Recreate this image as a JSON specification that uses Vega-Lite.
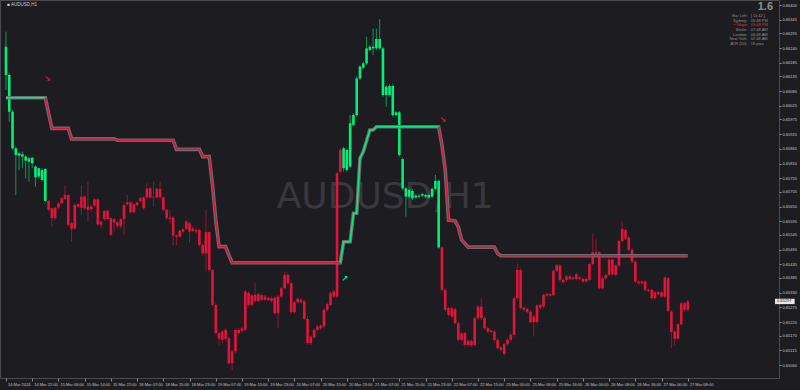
{
"$schema":"https://vega.github.io/schema/vega-lite/v6.json",
"width":779,"height":378,
"autosize":{"type":"none"},
"padding":{"left":0,"top":0,"right":21,"bottom":12},
"background":"#1d1d21",
"config":{"view":{"stroke":"#4a4a50","strokeWidth":1},"font":"Liberation Sans","axis":{"labelOverlap":false,"tickCount":100}},
"datasets":{
"candles":[
{"i":0,"o":0.66245,"h":0.66301,"l":0.66084,"c":0.66140,"t":"up"},
{"i":1,"o":0.66140,"h":0.66146,"l":0.65966,"c":0.66003,"t":"up"},
{"i":2,"o":0.66003,"h":0.66010,"l":0.65861,"c":0.65867,"t":"up"},
{"i":3,"o":0.65867,"h":0.65873,"l":0.65693,"c":0.65842,"t":"up"},
{"i":4,"o":0.65848,"h":0.65855,"l":0.65786,"c":0.65840,"t":"up"},
{"i":5,"o":0.65845,"h":0.65855,"l":0.65793,"c":0.65836,"t":"up"},
{"i":6,"o":0.65836,"h":0.65842,"l":0.65755,"c":0.65821,"t":"up"},
{"i":7,"o":0.65830,"h":0.65836,"l":0.65743,"c":0.65817,"t":"up"},
{"i":8,"o":0.65832,"h":0.65836,"l":0.65793,"c":0.65811,"t":"up"},
{"i":9,"o":0.65799,"h":0.65803,"l":0.65724,"c":0.65759,"t":"up"},
{"i":10,"o":0.65762,"h":0.65795,"l":0.65755,"c":0.65793,"t":"up"},
{"i":11,"o":0.65749,"h":0.65793,"l":0.65743,"c":0.65786,"t":"up"},
{"i":12,"o":0.65790,"h":0.65793,"l":0.65666,"c":0.65671,"t":"up"},
{"i":13,"o":0.65671,"h":0.65675,"l":0.65631,"c":0.65638,"t":"dn"},
{"i":14,"o":0.65644,"h":0.65646,"l":0.65576,"c":0.65607,"t":"dn"},
{"i":15,"o":0.65607,"h":0.65650,"l":0.65600,"c":0.65646,"t":"dn"},
{"i":16,"o":0.65646,"h":0.65669,"l":0.65641,"c":0.65662,"t":"dn"},
{"i":17,"o":0.65662,"h":0.65684,"l":0.65659,"c":0.65681,"t":"dn"},
{"i":18,"o":0.65679,"h":0.65731,"l":0.65675,"c":0.65693,"t":"dn"},
{"i":19,"o":0.65693,"h":0.65696,"l":0.65576,"c":0.65582,"t":"dn"},
{"i":20,"o":0.65588,"h":0.65594,"l":0.65520,"c":0.65567,"t":"dn"},
{"i":21,"o":0.65569,"h":0.65662,"l":0.65563,"c":0.65656,"t":"dn"},
{"i":22,"o":0.65659,"h":0.65662,"l":0.65644,"c":0.65650,"t":"dn"},
{"i":23,"o":0.65646,"h":0.65731,"l":0.65619,"c":0.65687,"t":"dn"},
{"i":24,"o":0.65687,"h":0.65693,"l":0.65638,"c":0.65644,"t":"dn"},
{"i":25,"o":0.65650,"h":0.65743,"l":0.65594,"c":0.65638,"t":"dn"},
{"i":26,"o":0.65641,"h":0.65656,"l":0.65631,"c":0.65650,"t":"dn"},
{"i":27,"o":0.65654,"h":0.65681,"l":0.65650,"c":0.65677,"t":"dn"},
{"i":28,"o":0.65677,"h":0.65681,"l":0.65579,"c":0.65584,"t":"dn"},
{"i":29,"o":0.65594,"h":0.65597,"l":0.65569,"c":0.65582,"t":"dn"},
{"i":30,"o":0.65604,"h":0.65638,"l":0.65597,"c":0.65634,"t":"dn"},
{"i":31,"o":0.65634,"h":0.65638,"l":0.65600,"c":0.65604,"t":"dn"},
{"i":32,"o":0.65607,"h":0.65609,"l":0.65538,"c":0.65545,"t":"dn"},
{"i":33,"o":0.65592,"h":0.65607,"l":0.65557,"c":0.65604,"t":"dn"},
{"i":34,"o":0.65592,"h":0.65594,"l":0.65569,"c":0.65579,"t":"dn"},
{"i":35,"o":0.65576,"h":0.65607,"l":0.65569,"c":0.65604,"t":"dn"},
{"i":36,"o":0.65604,"h":0.65662,"l":0.65545,"c":0.65656,"t":"dn"},
{"i":37,"o":0.65659,"h":0.65693,"l":0.65654,"c":0.65666,"t":"dn"},
{"i":38,"o":0.65666,"h":0.65669,"l":0.65625,"c":0.65629,"t":"dn"},
{"i":39,"o":0.65629,"h":0.65662,"l":0.65625,"c":0.65659,"t":"dn"},
{"i":40,"o":0.65656,"h":0.65669,"l":0.65650,"c":0.65665,"t":"dn"},
{"i":41,"o":0.65671,"h":0.65687,"l":0.65666,"c":0.65681,"t":"dn"},
{"i":42,"o":0.65684,"h":0.65687,"l":0.65638,"c":0.65644,"t":"dn"},
{"i":43,"o":0.65684,"h":0.65737,"l":0.65679,"c":0.65718,"t":"dn"},
{"i":44,"o":0.65718,"h":0.65724,"l":0.65679,"c":0.65684,"t":"dn"},
{"i":45,"o":0.65684,"h":0.65743,"l":0.65650,"c":0.65687,"t":"dn"},
{"i":46,"o":0.65684,"h":0.65721,"l":0.65679,"c":0.65716,"t":"dn"},
{"i":47,"o":0.65716,"h":0.65743,"l":0.65679,"c":0.65684,"t":"dn"},
{"i":48,"o":0.65684,"h":0.65687,"l":0.65631,"c":0.65638,"t":"dn"},
{"i":49,"o":0.65638,"h":0.65641,"l":0.65600,"c":0.65607,"t":"dn"},
{"i":50,"o":0.65604,"h":0.65638,"l":0.65588,"c":0.65609,"t":"dn"},
{"i":51,"o":0.65609,"h":0.65613,"l":0.65507,"c":0.65542,"t":"dn"},
{"i":52,"o":0.65542,"h":0.65547,"l":0.65507,"c":0.65538,"t":"dn"},
{"i":53,"o":0.65538,"h":0.65563,"l":0.65535,"c":0.65560,"t":"dn"},
{"i":54,"o":0.65557,"h":0.65569,"l":0.65551,"c":0.65566,"t":"dn"},
{"i":55,"o":0.65567,"h":0.65600,"l":0.65563,"c":0.65594,"t":"dn"},
{"i":56,"o":0.65588,"h":0.65594,"l":0.65514,"c":0.65557,"t":"dn"},
{"i":57,"o":0.65560,"h":0.65576,"l":0.65555,"c":0.65569,"t":"dn"},
{"i":58,"o":0.65563,"h":0.65569,"l":0.65551,"c":0.65557,"t":"dn"},
{"i":59,"o":0.65563,"h":0.65567,"l":0.65501,"c":0.65507,"t":"dn"},
{"i":60,"o":0.65507,"h":0.65514,"l":0.65470,"c":0.65476,"t":"dn"},
{"i":61,"o":0.65476,"h":0.65638,"l":0.65408,"c":0.65555,"t":"dn"},
{"i":62,"o":0.65555,"h":0.65557,"l":0.65408,"c":0.65414,"t":"dn"},
{"i":63,"o":0.65414,"h":0.65418,"l":0.65278,"c":0.65284,"t":"dn"},
{"i":64,"o":0.65284,"h":0.65290,"l":0.65173,"c":0.65179,"t":"dn"},
{"i":65,"o":0.65179,"h":0.65185,"l":0.65135,"c":0.65158,"t":"dn"},
{"i":66,"o":0.65154,"h":0.65191,"l":0.65142,"c":0.65185,"t":"dn"},
{"i":67,"o":0.65191,"h":0.65197,"l":0.65150,"c":0.65158,"t":"dn"},
{"i":68,"o":0.65160,"h":0.65166,"l":0.65061,"c":0.65067,"t":"dn"},
{"i":69,"o":0.65067,"h":0.65117,"l":0.65042,"c":0.65111,"t":"dn"},
{"i":70,"o":0.65111,"h":0.65197,"l":0.65104,"c":0.65191,"t":"dn"},
{"i":71,"o":0.65191,"h":0.65197,"l":0.65173,"c":0.65179,"t":"dn"},
{"i":72,"o":0.65188,"h":0.65204,"l":0.65179,"c":0.65197,"t":"dn"},
{"i":73,"o":0.65191,"h":0.65340,"l":0.65185,"c":0.65334,"t":"dn"},
{"i":74,"o":0.65328,"h":0.65334,"l":0.65278,"c":0.65284,"t":"dn"},
{"i":75,"o":0.65284,"h":0.65324,"l":0.65278,"c":0.65319,"t":"dn"},
{"i":76,"o":0.65299,"h":0.65365,"l":0.65294,"c":0.65321,"t":"dn"},
{"i":77,"o":0.65324,"h":0.65328,"l":0.65294,"c":0.65299,"t":"dn"},
{"i":78,"o":0.65303,"h":0.65328,"l":0.65297,"c":0.65321,"t":"dn"},
{"i":79,"o":0.65315,"h":0.65321,"l":0.65299,"c":0.65303,"t":"dn"},
{"i":80,"o":0.65303,"h":0.65315,"l":0.65299,"c":0.65311,"t":"dn"},
{"i":81,"o":0.65309,"h":0.65315,"l":0.65294,"c":0.65299,"t":"dn"},
{"i":82,"o":0.65311,"h":0.65315,"l":0.65247,"c":0.65253,"t":"dn"},
{"i":83,"o":0.65253,"h":0.65321,"l":0.65197,"c":0.65315,"t":"dn"},
{"i":84,"o":0.65315,"h":0.65352,"l":0.65309,"c":0.65346,"t":"dn"},
{"i":85,"o":0.65346,"h":0.65408,"l":0.65340,"c":0.65396,"t":"dn"},
{"i":86,"o":0.65396,"h":0.65402,"l":0.65359,"c":0.65365,"t":"dn"},
{"i":87,"o":0.65365,"h":0.65371,"l":0.65253,"c":0.65257,"t":"dn"},
{"i":88,"o":0.65257,"h":0.65299,"l":0.65250,"c":0.65294,"t":"dn"},
{"i":89,"o":0.65294,"h":0.65311,"l":0.65289,"c":0.65307,"t":"dn"},
{"i":90,"o":0.65303,"h":0.65309,"l":0.65289,"c":0.65294,"t":"dn"},
{"i":91,"o":0.65297,"h":0.65303,"l":0.65227,"c":0.65232,"t":"dn"},
{"i":92,"o":0.65232,"h":0.65241,"l":0.65135,"c":0.65142,"t":"dn"},
{"i":93,"o":0.65142,"h":0.65173,"l":0.65135,"c":0.65166,"t":"dn"},
{"i":94,"o":0.65163,"h":0.65197,"l":0.65158,"c":0.65191,"t":"dn"},
{"i":95,"o":0.65191,"h":0.65210,"l":0.65185,"c":0.65204,"t":"dn"},
{"i":96,"o":0.65197,"h":0.65212,"l":0.65191,"c":0.65207,"t":"dn"},
{"i":97,"o":0.65204,"h":0.65272,"l":0.65197,"c":0.65266,"t":"dn"},
{"i":98,"o":0.65266,"h":0.65292,"l":0.65259,"c":0.65287,"t":"dn"},
{"i":99,"o":0.65284,"h":0.65334,"l":0.65278,"c":0.65328,"t":"dn"},
{"i":100,"o":0.65315,"h":0.65339,"l":0.65309,"c":0.65334,"t":"dn"},
{"i":101,"o":0.65315,"h":0.65780,"l":0.65309,"c":0.65774,"t":"dn"},
{"i":102,"o":0.65780,"h":0.65867,"l":0.65774,"c":0.65861,"t":"dn"},
{"i":103,"o":0.65867,"h":0.65873,"l":0.65780,"c":0.65793,"t":"up"},
{"i":104,"o":0.65786,"h":0.65867,"l":0.65780,"c":0.65861,"t":"up"},
{"i":105,"o":0.65799,"h":0.65991,"l":0.65793,"c":0.65960,"t":"up"},
{"i":106,"o":0.65954,"h":0.65997,"l":0.65948,"c":0.65991,"t":"up"},
{"i":107,"o":0.65991,"h":0.66134,"l":0.65985,"c":0.66127,"t":"up"},
{"i":108,"o":0.66127,"h":0.66177,"l":0.66121,"c":0.66171,"t":"up"},
{"i":109,"o":0.66167,"h":0.66189,"l":0.66162,"c":0.66183,"t":"up"},
{"i":110,"o":0.66183,"h":0.66282,"l":0.66177,"c":0.66239,"t":"up"},
{"i":111,"o":0.66233,"h":0.66251,"l":0.66227,"c":0.66245,"t":"up"},
{"i":112,"o":0.66245,"h":0.66313,"l":0.66214,"c":0.66239,"t":"up"},
{"i":113,"o":0.66239,"h":0.66313,"l":0.66233,"c":0.66274,"t":"up"},
{"i":114,"o":0.66274,"h":0.66348,"l":0.66233,"c":0.66239,"t":"up"},
{"i":115,"o":0.66239,"h":0.66245,"l":0.66059,"c":0.66065,"t":"up"},
{"i":116,"o":0.66065,"h":0.66103,"l":0.66022,"c":0.66096,"t":"up"},
{"i":117,"o":0.66099,"h":0.66105,"l":0.66059,"c":0.66065,"t":"up"},
{"i":118,"o":0.66099,"h":0.66105,"l":0.65985,"c":0.65991,"t":"up"},
{"i":119,"o":0.65991,"h":0.66006,"l":0.65985,"c":0.66001,"t":"up"},
{"i":120,"o":0.66001,"h":0.66006,"l":0.65836,"c":0.65842,"t":"up"},
{"i":121,"o":0.65827,"h":0.65832,"l":0.65712,"c":0.65718,"t":"up"},
{"i":122,"o":0.65718,"h":0.65724,"l":0.65613,"c":0.65687,"t":"up"},
{"i":123,"o":0.65687,"h":0.65718,"l":0.65681,"c":0.65712,"t":"up"},
{"i":124,"o":0.65708,"h":0.65716,"l":0.65675,"c":0.65681,"t":"up"},
{"i":125,"o":0.65684,"h":0.65696,"l":0.65679,"c":0.65691,"t":"up"},
{"i":126,"o":0.65691,"h":0.65696,"l":0.65681,"c":0.65687,"t":"up"},
{"i":127,"o":0.65691,"h":0.65702,"l":0.65686,"c":0.65697,"t":"up"},
{"i":128,"o":0.65693,"h":0.65698,"l":0.65681,"c":0.65687,"t":"up"},
{"i":129,"o":0.65684,"h":0.65698,"l":0.65679,"c":0.65693,"t":"up"},
{"i":130,"o":0.65687,"h":0.65721,"l":0.65681,"c":0.65716,"t":"up"},
{"i":131,"o":0.65716,"h":0.65768,"l":0.65711,"c":0.65746,"t":"up"},
{"i":132,"o":0.65746,"h":0.65750,"l":0.65493,"c":0.65498,"t":"up"},
{"i":133,"o":0.65498,"h":0.65502,"l":0.65334,"c":0.65340,"t":"dn"},
{"i":134,"o":0.65340,"h":0.65346,"l":0.65259,"c":0.65266,"t":"dn"},
{"i":135,"o":0.65272,"h":0.65277,"l":0.65241,"c":0.65247,"t":"dn"},
{"i":136,"o":0.65241,"h":0.65277,"l":0.65235,"c":0.65272,"t":"dn"},
{"i":137,"o":0.65269,"h":0.65274,"l":0.65210,"c":0.65216,"t":"dn"},
{"i":138,"o":0.65216,"h":0.65222,"l":0.65148,"c":0.65154,"t":"dn"},
{"i":139,"o":0.65154,"h":0.65185,"l":0.65148,"c":0.65179,"t":"dn"},
{"i":140,"o":0.65179,"h":0.65185,"l":0.65129,"c":0.65135,"t":"dn"},
{"i":141,"o":0.65135,"h":0.65155,"l":0.65129,"c":0.65150,"t":"dn"},
{"i":142,"o":0.65150,"h":0.65155,"l":0.65128,"c":0.65133,"t":"dn"},
{"i":143,"o":0.65135,"h":0.65241,"l":0.65129,"c":0.65235,"t":"dn"},
{"i":144,"o":0.65235,"h":0.65284,"l":0.65228,"c":0.65278,"t":"dn"},
{"i":145,"o":0.65278,"h":0.65309,"l":0.65228,"c":0.65235,"t":"dn"},
{"i":146,"o":0.65235,"h":0.65241,"l":0.65191,"c":0.65197,"t":"dn"},
{"i":147,"o":0.65197,"h":0.65202,"l":0.65179,"c":0.65185,"t":"dn"},
{"i":148,"o":0.65188,"h":0.65192,"l":0.65178,"c":0.65183,"t":"dn"},
{"i":149,"o":0.65185,"h":0.65190,"l":0.65148,"c":0.65154,"t":"dn"},
{"i":150,"o":0.65154,"h":0.65160,"l":0.65117,"c":0.65123,"t":"dn"},
{"i":151,"o":0.65126,"h":0.65130,"l":0.65111,"c":0.65117,"t":"dn"},
{"i":152,"o":0.65101,"h":0.65143,"l":0.65096,"c":0.65138,"t":"dn"},
{"i":153,"o":0.65138,"h":0.65160,"l":0.65133,"c":0.65154,"t":"dn"},
{"i":154,"o":0.65154,"h":0.65179,"l":0.65148,"c":0.65173,"t":"dn"},
{"i":155,"o":0.65173,"h":0.65315,"l":0.65166,"c":0.65309,"t":"dn"},
{"i":156,"o":0.65309,"h":0.65439,"l":0.65303,"c":0.65414,"t":"dn"},
{"i":157,"o":0.65414,"h":0.65421,"l":0.65266,"c":0.65272,"t":"dn"},
{"i":158,"o":0.65274,"h":0.65279,"l":0.65259,"c":0.65266,"t":"dn"},
{"i":159,"o":0.65269,"h":0.65274,"l":0.65252,"c":0.65257,"t":"dn"},
{"i":160,"o":0.65259,"h":0.65264,"l":0.65215,"c":0.65220,"t":"dn"},
{"i":161,"o":0.65220,"h":0.65247,"l":0.65166,"c":0.65241,"t":"dn"},
{"i":162,"o":0.65220,"h":0.65287,"l":0.65215,"c":0.65282,"t":"dn"},
{"i":163,"o":0.65274,"h":0.65289,"l":0.65269,"c":0.65284,"t":"dn"},
{"i":164,"o":0.65278,"h":0.65326,"l":0.65272,"c":0.65321,"t":"dn"},
{"i":165,"o":0.65319,"h":0.65329,"l":0.65314,"c":0.65324,"t":"dn"},
{"i":166,"o":0.65324,"h":0.65329,"l":0.65314,"c":0.65319,"t":"dn"},
{"i":167,"o":0.65321,"h":0.65416,"l":0.65316,"c":0.65411,"t":"dn"},
{"i":168,"o":0.65411,"h":0.65436,"l":0.65406,"c":0.65431,"t":"dn"},
{"i":169,"o":0.65431,"h":0.65436,"l":0.65371,"c":0.65377,"t":"dn"},
{"i":170,"o":0.65377,"h":0.65383,"l":0.65364,"c":0.65369,"t":"dn"},
{"i":171,"o":0.65377,"h":0.65396,"l":0.65371,"c":0.65390,"t":"dn"},
{"i":172,"o":0.65390,"h":0.65396,"l":0.65376,"c":0.65381,"t":"dn"},
{"i":173,"o":0.65381,"h":0.65391,"l":0.65376,"c":0.65386,"t":"dn"},
{"i":174,"o":0.65381,"h":0.65403,"l":0.65376,"c":0.65398,"t":"dn"},
{"i":175,"o":0.65386,"h":0.65391,"l":0.65376,"c":0.65381,"t":"dn"},
{"i":176,"o":0.65381,"h":0.65386,"l":0.65366,"c":0.65371,"t":"dn"},
{"i":177,"o":0.65371,"h":0.65386,"l":0.65366,"c":0.65381,"t":"dn"},
{"i":178,"o":0.65377,"h":0.65440,"l":0.65371,"c":0.65436,"t":"dn"},
{"i":179,"o":0.65436,"h":0.65551,"l":0.65431,"c":0.65480,"t":"dn"},
{"i":180,"o":0.65480,"h":0.65530,"l":0.65465,"c":0.65470,"t":"dn"},
{"i":181,"o":0.65480,"h":0.65485,"l":0.65341,"c":0.65346,"t":"dn"},
{"i":182,"o":0.65346,"h":0.65388,"l":0.65341,"c":0.65383,"t":"dn"},
{"i":183,"o":0.65383,"h":0.65401,"l":0.65378,"c":0.65396,"t":"dn"},
{"i":184,"o":0.65396,"h":0.65457,"l":0.65391,"c":0.65452,"t":"dn"},
{"i":185,"o":0.65452,"h":0.65457,"l":0.65393,"c":0.65398,"t":"dn"},
{"i":186,"o":0.65396,"h":0.65436,"l":0.65391,"c":0.65431,"t":"dn"},
{"i":187,"o":0.65431,"h":0.65527,"l":0.65426,"c":0.65522,"t":"dn"},
{"i":188,"o":0.65522,"h":0.65594,"l":0.65517,"c":0.65567,"t":"dn"},
{"i":189,"o":0.65563,"h":0.65568,"l":0.65525,"c":0.65530,"t":"dn"},
{"i":190,"o":0.65535,"h":0.65540,"l":0.65483,"c":0.65489,"t":"dn"},
{"i":191,"o":0.65489,"h":0.65495,"l":0.65439,"c":0.65445,"t":"dn"},
{"i":192,"o":0.65445,"h":0.65450,"l":0.65365,"c":0.65371,"t":"dn"},
{"i":193,"o":0.65371,"h":0.65376,"l":0.65359,"c":0.65365,"t":"dn"},
{"i":194,"o":0.65365,"h":0.65376,"l":0.65359,"c":0.65371,"t":"dn"},
{"i":195,"o":0.65371,"h":0.65376,"l":0.65334,"c":0.65340,"t":"dn"},
{"i":196,"o":0.65340,"h":0.65345,"l":0.65331,"c":0.65336,"t":"dn"},
{"i":197,"o":0.65340,"h":0.65345,"l":0.65303,"c":0.65309,"t":"dn"},
{"i":198,"o":0.65309,"h":0.65336,"l":0.65303,"c":0.65331,"t":"dn"},
{"i":199,"o":0.65331,"h":0.65336,"l":0.65319,"c":0.65324,"t":"dn"},
{"i":200,"o":0.65331,"h":0.65336,"l":0.65309,"c":0.65315,"t":"dn"},
{"i":201,"o":0.65315,"h":0.65391,"l":0.65309,"c":0.65386,"t":"dn"},
{"i":202,"o":0.65383,"h":0.65388,"l":0.65257,"c":0.65262,"t":"dn"},
{"i":203,"o":0.65259,"h":0.65264,"l":0.65123,"c":0.65183,"t":"dn"},
{"i":204,"o":0.65185,"h":0.65190,"l":0.65135,"c":0.65158,"t":"dn"},
{"i":205,"o":0.65158,"h":0.65217,"l":0.65153,"c":0.65212,"t":"dn"},
{"i":206,"o":0.65212,"h":0.65295,"l":0.65207,"c":0.65290,"t":"dn"},
{"i":207,"o":0.65290,"h":0.65295,"l":0.65259,"c":0.65266,"t":"dn"},
{"i":208,"o":0.65266,"h":0.65302,"l":0.65259,"c":0.65297,"t":"dn"}
],
"trend":[
{"i":0,"v":0.66055,"g":"A","d":"up"},{"i":12,"v":0.66055,"g":"A","d":"up"},
{"i":12,"v":0.66055,"g":"B","d":"dn"},{"i":14,"v":0.65941,"g":"B","d":"dn"},{"i":19,"v":0.65941,"g":"B","d":"dn"},{"i":20,"v":0.65902,"g":"B","d":"dn"},{"i":33,"v":0.65902,"g":"B","d":"dn"},{"i":34,"v":0.65897,"g":"B","d":"dn"},{"i":51,"v":0.65897,"g":"B","d":"dn"},{"i":52,"v":0.65863,"g":"B","d":"dn"},{"i":59,"v":0.65863,"g":"B","d":"dn"},{"i":60,"v":0.65836,"g":"B","d":"dn"},{"i":62,"v":0.65836,"g":"B","d":"dn"},{"i":63,"v":0.65730,"g":"B","d":"dn"},{"i":64,"v":0.65600,"g":"B","d":"dn"},{"i":65,"v":0.65501,"g":"B","d":"dn"},{"i":67,"v":0.65501,"g":"B","d":"dn"},{"i":68,"v":0.65470,"g":"B","d":"dn"},{"i":69,"v":0.65441,"g":"B","d":"dn"},{"i":102,"v":0.65441,"g":"B","d":"dn"},
{"i":102,"v":0.65441,"g":"C","d":"up"},{"i":103,"v":0.65519,"g":"C","d":"up"},{"i":105,"v":0.65519,"g":"C","d":"up"},{"i":106,"v":0.65625,"g":"C","d":"up"},{"i":107,"v":0.65625,"g":"C","d":"up"},{"i":108,"v":0.65830,"g":"C","d":"up"},{"i":109,"v":0.65854,"g":"C","d":"up"},{"i":111,"v":0.65935,"g":"C","d":"up"},{"i":112,"v":0.65935,"g":"C","d":"up"},{"i":113,"v":0.65947,"g":"C","d":"up"},{"i":132,"v":0.65947,"g":"C","d":"up"},
{"i":132,"v":0.65947,"g":"D","d":"dn"},{"i":133,"v":0.65879,"g":"D","d":"dn"},{"i":134,"v":0.65786,"g":"D","d":"dn"},{"i":135,"v":0.65600,"g":"D","d":"dn"},{"i":137,"v":0.65597,"g":"D","d":"dn"},{"i":138,"v":0.65574,"g":"D","d":"dn"},{"i":139,"v":0.65526,"g":"D","d":"dn"},{"i":141,"v":0.65499,"g":"D","d":"dn"},{"i":149,"v":0.65499,"g":"D","d":"dn"},{"i":150,"v":0.65475,"g":"D","d":"dn"},{"i":151,"v":0.65467,"g":"D","d":"dn"},{"i":208,"v":0.65467,"g":"D","d":"dn"}
],
"arrows":[
{"i":12.6,"p":0.66125,"s":"↘","d":"dn"},
{"i":133.3,"p":0.65972,"s":"↘","d":"dn"},
{"i":103.4,"p":0.65381,"s":"↗","d":"up"}
]
},
"layer":[
{"data":{"name":"candles"},
 "mark":{"type":"rule","strokeWidth":0.9,"opacity":0},
 "encoding":{
  "x":{"field":"i","type":"quantitative","title":null,"scale":{"domain":[-0.3,234.3],"nice":false,"zero":false},
   "axis":{"orient":"bottom","tickCount":100,"values":[0,8,16,24,32,40,48,56,64,72,80,88,96,104,112,120,128,136,144,152,160,168,176,184,192,200,208],
    "labelExpr":"['14 Mar 2024','14 Mar 22:00','15 Mar 06:00','15 Mar 14:00','15 Mar 22:00','18 Mar 07:00','18 Mar 15:00','18 Mar 23:00','19 Mar 07:00','19 Mar 15:00','19 Mar 23:00','20 Mar 07:00','20 Mar 15:00','20 Mar 23:00','21 Mar 07:00','21 Mar 15:00','21 Mar 23:00','22 Mar 07:00','22 Mar 15:00','25 Mar 00:00','25 Mar 08:00','25 Mar 16:00','26 Mar 00:00','26 Mar 08:00','26 Mar 16:00','27 Mar 00:00','27 Mar 08:00'][round(datum.value/8)]",
    "labelAlign":"left","labelBaseline":"top","labelFontSize":4,"labelColor":"#c8c8c8","labelPadding":1,"labelOffset":1.5,"labelOverlap":false,"labelBound":false,"labelFlush":false,"tickSize":3,"tickColor":"#8a8a8a","domain":false,"grid":false,"title":null}},
  "y":{"field":"l","type":"quantitative","title":null,"scale":{"domain":[0.65012,0.66419],"nice":false,"zero":false},
   "axis":{"orient":"right","tickCount":100,"values":[0.664,0.66345,0.66295,0.6624,0.66185,0.66135,0.6608,0.66025,0.65975,0.6592,0.65865,0.6581,0.65755,0.65705,0.6565,0.65595,0.65545,0.6549,0.65435,0.65385,0.6533,0.65275,0.6522,0.6517,0.65115,0.6506,0.65005],
    "format":".5f","labelFontSize":4,"labelColor":"#c8c8c8","labelPadding":1,"tickSize":2,"tickColor":"#8a8a8a","domain":false,"grid":false,"title":null,"labelOverlap":false,"labelBound":false,"labelFlush":false}},
  "y2":{"field":"h"},
  "color":{"field":"t","type":"nominal","scale":{"domain":["up","dn"],"range":["#00f07a","#e0143c"]},"legend":null}}},
{"data":{"values":[{"w":"AUDUSD,H1"}]},
 "mark":{"type":"text","font":"DejaVu Sans","fontSize":36,"color":"#38383e","align":"center","baseline":"middle"},
 "encoding":{"text":{"field":"w"},"x":{"datum":115.7,"type":"quantitative"},"y":{"datum":0.65686,"type":"quantitative"}}},
{"data":{"name":"candles"},
 "mark":{"type":"rule","strokeWidth":0.9,"opacity":0.65},
 "encoding":{"x":{"field":"i","type":"quantitative","title":null},"y":{"field":"l","type":"quantitative","title":null},"y2":{"field":"h"},
  "color":{"field":"t","type":"nominal","legend":null}}},
{"data":{"name":"candles"},
 "mark":{"type":"bar","size":2.6},
 "encoding":{"x":{"field":"i","type":"quantitative","title":null},"y":{"field":"o","type":"quantitative","title":null},"y2":{"field":"c"},
  "color":{"field":"t","type":"nominal","legend":null}}},
{"data":{"name":"trend"},
 "mark":{"type":"line","color":"#6c6c70","strokeWidth":3.6},
 "encoding":{"x":{"field":"i","type":"quantitative","title":null},"y":{"field":"v","type":"quantitative","title":null}}},
{"data":{"name":"trend"},
 "mark":{"type":"line","strokeWidth":1.5},
 "encoding":{"x":{"field":"i","type":"quantitative","title":null},"y":{"field":"v","type":"quantitative","title":null},"detail":{"field":"g"},
  "color":{"field":"d","type":"nominal","legend":null}}},
{"data":{"name":"arrows"},
 "mark":{"type":"text","font":"DejaVu Sans","fontSize":8,"fontWeight":"bold","align":"center","baseline":"middle"},
 "encoding":{"x":{"field":"i","type":"quantitative","title":null},"y":{"field":"p","type":"quantitative","title":null},"text":{"field":"s"},
  "color":{"field":"d","type":"nominal","legend":null}}},
{"data":{"values":[{"w":"■ AUDUSD,H1"}]},
 "mark":{"type":"text","fontSize":4.5,"color":"#c8c8c8","align":"left","baseline":"middle"},
 "encoding":{"text":{"field":"w"},"x":{"datum":0.4,"type":"quantitative"},"y":{"datum":0.66402,"type":"quantitative"}}},
{"data":{"values":[{"w":"1.6"}]},
 "mark":{"type":"text","fontSize":11,"fontWeight":"bold","color":"#8e8e92","align":"right","baseline":"alphabetic"},
 "encoding":{"text":{"field":"w"},"x":{"datum":234.0,"type":"quantitative"},"y":{"datum":0.66380,"type":"quantitative"}}},
{"data":{"values":[{}]},
 "mark":{"type":"text","fontSize":4,"color":"#8e8e92","align":"right","baseline":"top","lineHeight":4.6,
  "text":["Bar Left:","Sydney:"]},
 "encoding":{"x":{"datum":226.2,"type":"quantitative"},"y":{"datum":0.66366,"type":"quantitative"}}},
{"data":{"values":[{}]},
 "mark":{"type":"text","fontSize":4,"color":"#8e8e92","align":"left","baseline":"top","lineHeight":4.6,
  "text":["[ 11:42 ]","05:48 PM"]},
 "encoding":{"x":{"datum":227.2,"type":"quantitative"},"y":{"datum":0.66366,"type":"quantitative"}}},
{"data":{"values":[{}]},
 "mark":{"type":"text","fontSize":4,"color":"#ff2020","align":"right","baseline":"top","text":"• Tokyo:"},
 "encoding":{"x":{"datum":226.2,"type":"quantitative"},"y":{"datum":0.66332,"type":"quantitative"}}},
{"data":{"values":[{}]},
 "mark":{"type":"text","fontSize":4,"color":"#ff2020","align":"left","baseline":"top","text":"03:48 PM"},
 "encoding":{"x":{"datum":227.2,"type":"quantitative"},"y":{"datum":0.66332,"type":"quantitative"}}},
{"data":{"values":[{}]},
 "mark":{"type":"text","fontSize":4,"color":"#8e8e92","align":"right","baseline":"top","lineHeight":4.6,
  "text":["Berlin:","London:","New York:","ATR (20):"]},
 "encoding":{"x":{"datum":226.2,"type":"quantitative"},"y":{"datum":0.66315,"type":"quantitative"}}},
{"data":{"values":[{}]},
 "mark":{"type":"text","fontSize":4,"color":"#8e8e92","align":"left","baseline":"top","lineHeight":4.6,
  "text":["07:48 AM","06:48 AM","02:48 AM","16 pips"]},
 "encoding":{"x":{"datum":227.2,"type":"quantitative"},"y":{"datum":0.66315,"type":"quantitative"}}},
{"data":{"values":[{}]},
 "mark":{"type":"rect","color":"#e6e6e6"},
 "encoding":{"x":{"datum":234.6,"type":"quantitative"},"x2":{"datum":240.6},"y":{"datum":0.65307,"type":"quantitative"},"y2":{"datum":0.65287}}},
{"data":{"values":[{"w":"0.65297"}]},
 "mark":{"type":"text","fontSize":4,"color":"#1d1d21","align":"left","baseline":"middle"},
 "encoding":{"text":{"field":"w"},"x":{"datum":235.2,"type":"quantitative"},"y":{"datum":0.65297,"type":"quantitative"}}}
]
}
